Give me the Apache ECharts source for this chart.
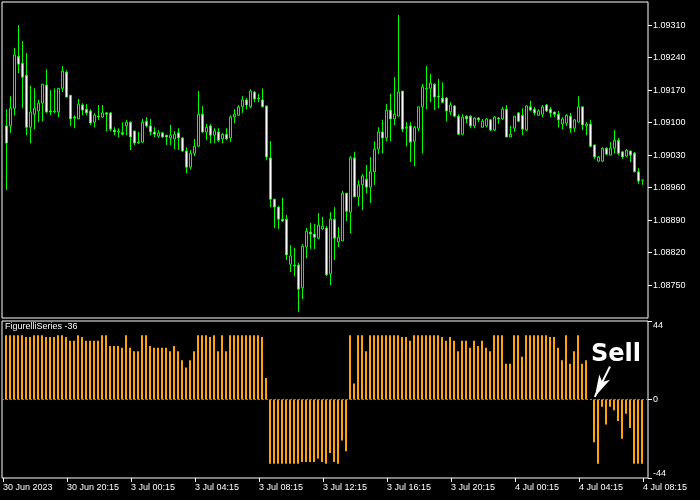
<!DOCTYPE html>
<html>
<head>
<meta charset="utf-8">
<script src="https://cdn.jsdelivr.net/npm/echarts@6/dist/echarts.min.js"></script>
<style>html,body{margin:0;padding:0;background:#000;}#c{width:700px;height:500px;}</style>
</head>
<body>
<div id="c"></div>
<script>
// EURUSD M15 candles (bar index 0..159)
const opens = [1.09093,1.09093,1.09131,1.09243,1.09228,1.09202,1.09090,1.09118,1.09125,1.09142,
1.09181,1.09125,1.09123,1.09123,1.09174,1.09209,1.09159,1.09112,1.09108,1.09138,
1.09129,1.09125,1.09101,1.09114,1.09112,1.09121,1.09121,1.09084,1.09080,1.09078,
1.09093,1.09101,1.09082,1.09056,1.09058,1.09103,1.09093,1.09080,1.09071,1.09078,
1.09073,1.09067,1.09065,1.09078,1.09067,1.09039,1.09004,1.09034,1.09049,1.09118,
1.09080,1.09093,1.09073,1.09080,1.09065,1.09075,1.09067,1.09112,1.09116,1.09134,
1.09149,1.09134,1.09166,1.09151,1.09149,1.09136,1.09024,1.08935,1.08918,1.08892,
1.08892,1.08795,1.08793,1.08793,1.08744,1.08832,1.08864,1.08860,1.08851,1.08871,
1.08873,1.08774,1.08892,1.08843,1.08845,1.08948,1.08907,1.09024,1.08940,1.08966,
1.08978,1.08961,1.08994,1.09043,1.09080,1.09067,1.09127,1.09108,1.09114,1.09168,
1.09088,1.09093,1.09060,1.09088,1.09134,1.09172,1.09174,1.09183,1.09157,1.09153,
1.09153,1.09123,1.09136,1.09114,1.09075,1.09114,1.09114,1.09093,1.09110,1.09090,
1.09093,1.09106,1.09084,1.09110,1.09108,1.09129,1.09069,1.09088,1.09121,1.09116,
1.09084,1.09134,1.09129,1.09116,1.09118,1.09138,1.09129,1.09123,1.09118,1.09097,
1.09099,1.09114,1.09088,1.09101,1.09134,1.09093,1.09097,1.09052,1.09017,1.09017,
1.09045,1.09030,1.09045,1.09062,1.09037,1.09028,1.09039,1.09034,1.08994,1.08976];
const closes = [1.09056,1.09131,1.09246,1.09226,1.09198,1.09090,1.09123,1.09131,1.09142,1.09183,
1.09123,1.09123,1.09125,1.09174,1.09211,1.09155,1.09108,1.09110,1.09140,1.09127,
1.09121,1.09099,1.09116,1.09112,1.09121,1.09118,1.09086,1.09080,1.09082,1.09075,
1.09101,1.09069,1.09056,1.09058,1.09101,1.09093,1.09080,1.09075,1.09078,1.09069,
1.09069,1.09073,1.09075,1.09067,1.09039,1.09004,1.09034,1.09049,1.09118,1.09080,
1.09090,1.09073,1.09082,1.09062,1.09075,1.09065,1.09112,1.09118,1.09134,1.09149,
1.09138,1.09168,1.09151,1.09153,1.09134,1.09026,1.08935,1.08918,1.08892,1.08888,
1.08815,1.08813,1.08791,1.08741,1.08834,1.08866,1.08860,1.08853,1.08879,1.08877,
1.08772,1.08892,1.08851,1.08853,1.08948,1.08909,1.09024,1.08940,1.08966,1.08985,
1.08961,1.08994,1.09043,1.09080,1.09067,1.09127,1.09108,1.09118,1.09166,1.09086,
1.09090,1.09058,1.09090,1.09134,1.09177,1.09174,1.09185,1.09155,1.09155,1.09144,
1.09125,1.09138,1.09114,1.09075,1.09112,1.09108,1.09093,1.09110,1.09106,1.09103,
1.09108,1.09084,1.09112,1.09108,1.09129,1.09069,1.09075,1.09114,1.09103,1.09086,
1.09136,1.09127,1.09121,1.09125,1.09134,1.09125,1.09121,1.09118,1.09106,1.09108,
1.09116,1.09088,1.09106,1.09134,1.09095,1.09097,1.09049,1.09026,1.09026,1.09045,
1.09032,1.09045,1.09062,1.09034,1.09026,1.09041,1.09030,1.08994,1.08974,1.08976];
const lows = [1.08955,1.09078,1.09116,1.09207,1.09131,1.09073,1.09056,1.09086,1.09101,1.09103,
1.09121,1.09116,1.09121,1.09112,1.09166,1.09155,1.09093,1.09088,1.09108,1.09116,
1.09116,1.09095,1.09090,1.09106,1.09110,1.09082,1.09082,1.09073,1.09069,1.09073,
1.09073,1.09041,1.09052,1.09054,1.09056,1.09090,1.09073,1.09069,1.09067,1.09067,
1.09052,1.09052,1.09043,1.09041,1.09037,1.08991,1.08999,1.09028,1.09049,1.09078,
1.09062,1.09056,1.09056,1.09058,1.09056,1.09062,1.09058,1.09099,1.09114,1.09121,
1.09129,1.09131,1.09144,1.09144,1.09134,1.09019,1.08918,1.08873,1.08871,1.08886,
1.08804,1.08778,1.08769,1.08692,1.08720,1.08808,1.08828,1.08828,1.08849,1.08869,
1.08769,1.08750,1.08804,1.08832,1.08845,1.08888,1.08862,1.08940,1.08920,1.08912,
1.08948,1.08927,1.08966,1.09032,1.09034,1.09060,1.09060,1.09095,1.09114,1.09080,
1.09049,1.09015,1.09006,1.09082,1.09034,1.09129,1.09144,1.09127,1.09131,1.09142,
1.09103,1.09116,1.09112,1.09073,1.09073,1.09099,1.09088,1.09088,1.09101,1.09090,
1.09090,1.09082,1.09082,1.09097,1.09106,1.09069,1.09069,1.09080,1.09101,1.09073,
1.09082,1.09125,1.09116,1.09114,1.09112,1.09123,1.09112,1.09112,1.09090,1.09086,
1.09093,1.09078,1.09080,1.09101,1.09084,1.09073,1.09047,1.09022,1.09015,1.09015,
1.09030,1.09030,1.09034,1.09030,1.09022,1.09026,1.09015,1.08994,1.08968,1.08966];
const highs = [1.09129,1.09157,1.09261,1.09310,1.09276,1.09250,1.09179,1.09174,1.09149,1.09183,
1.09215,1.09170,1.09174,1.09174,1.09222,1.09213,1.09159,1.09116,1.09151,1.09142,
1.09140,1.09129,1.09121,1.09138,1.09138,1.09123,1.09123,1.09090,1.09088,1.09101,
1.09106,1.09103,1.09082,1.09080,1.09108,1.09112,1.09108,1.09090,1.09084,1.09080,
1.09073,1.09095,1.09082,1.09088,1.09069,1.09047,1.09041,1.09065,1.09168,1.09136,
1.09097,1.09097,1.09088,1.09088,1.09078,1.09088,1.09116,1.09129,1.09138,1.09157,
1.09153,1.09172,1.09168,1.09162,1.09174,1.09136,1.09060,1.08935,1.08920,1.08938,
1.08901,1.08836,1.08830,1.08798,1.08838,1.08873,1.08884,1.08882,1.08905,1.08897,
1.08877,1.08907,1.08918,1.08875,1.08953,1.08948,1.09028,1.09037,1.08976,1.08989,
1.09009,1.09026,1.09060,1.09090,1.09106,1.09140,1.09162,1.09198,1.09332,1.09168,
1.09101,1.09101,1.09093,1.09134,1.09183,1.09222,1.09205,1.09185,1.09194,1.09187,
1.09155,1.09144,1.09138,1.09118,1.09118,1.09116,1.09116,1.09112,1.09112,1.09108,
1.09110,1.09108,1.09114,1.09112,1.09134,1.09138,1.09093,1.09114,1.09123,1.09131,
1.09138,1.09147,1.09134,1.09129,1.09138,1.09140,1.09134,1.09123,1.09125,1.09112,
1.09118,1.09121,1.09108,1.09157,1.09134,1.09101,1.09106,1.09052,1.09028,1.09047,
1.09047,1.09058,1.09084,1.09067,1.09039,1.09043,1.09039,1.09037,1.09002,1.08976];
// FigurelliSeries histogram
const figurelli = [36,36,36,36,36,35,35,36,36,36, 35,35,35,36,36,35,33,33,36,35,
33,33,33,33,36,36,30,30,30,29, 36,29,27,27,36,36,30,29,29,29,
29,27,30,27,22,18,22,27,36,36, 36,35,36,27,36,27,36,36,36,36,
36,36,36,36,35,12,-36,-36,-36,-36, -36,-36,-36,-36,-35,-35,-35,-35,-33,-35,
-36,-30,-35,-36,-23,-29,36,9,36,36, 27,36,36,36,36,36,36,36,36,35,
35,33,36,36,36,36,36,36,36,35, 33,35,33,27,33,33,29,33,30,33,
29,27,36,36,36,20,20,36,36,24, 36,36,36,36,36,36,35,35,29,22,
36,20,27,36,20,22,0,-24,-36,-4, -14,-4,-6,-12,-22,-8,-16,-36,-36,-36];
const timeLabels = ['30 Jun 2023','30 Jun 20:15','3 Jul 00:15','3 Jul 04:15','3 Jul 08:15','3 Jul 12:15',
  '3 Jul 16:15','3 Jul 20:15','4 Jul 00:15','4 Jul 04:15','4 Jul 08:15'];
const priceTicks = [1.08750,1.08820,1.08890,1.08960,1.09030,1.09100,1.09170,1.09240,1.09310];
const indTicks = [-44, 0, 44];
const indicatorName = 'FigurelliSeries -36';
const signalText = 'Sell';

const BARS_PER_LABEL = 16;
const xTickVals = timeLabels.map((_, k) => k * BARS_PER_LABEL - 0.75);
const candleData = opens.map((o, i) => [i, o, closes[i], lows[i], highs[i]]);
const histData = figurelli.map((v, i) => [i, v]);

const FONT = 'Liberation Sans';
const chart = echarts.init(document.getElementById('c'), null, {renderer: 'canvas'});
chart.setOption({
  backgroundColor: '#000',
  animation: false,
  title: {
    text: indicatorName, left: 5, top: 322, padding: 0,
    textStyle: {color: '#fff', fontSize: 9, fontWeight: 'normal', fontFamily: FONT}
  },
  grid: [
    {left: 2, top: 2, width: 646, height: 316, show: true, borderColor: '#fff', borderWidth: 1, backgroundColor: '#000'},
    {left: 2, top: 321, width: 646, height: 157, show: true, borderColor: '#fff', borderWidth: 1, backgroundColor: '#000'}
  ],
  xAxis: [
    {type: 'value', gridIndex: 0, min: -1.125, max: 160.375, show: false},
    {type: 'value', gridIndex: 1, min: -1, max: 160.5,
      axisLine: {show: false, onZero: false}, splitLine: {show: false},
      axisTick: {show: true, length: 4, customValues: xTickVals, lineStyle: {color: '#fff'}},
      axisLabel: {show: true, customValues: xTickVals, align: 'left', margin: 5, color: '#fff',
        fontSize: 9, fontFamily: FONT,
        formatter: v => timeLabels[Math.round((v + 0.75) / BARS_PER_LABEL)]}
    }
  ],
  yAxis: [
    {type: 'value', gridIndex: 0, position: 'right', min: 1.08679, max: 1.09360, scale: true,
      axisLine: {show: false, onZero: false}, splitLine: {show: false},
      axisTick: {show: true, length: 4, customValues: priceTicks, lineStyle: {color: '#fff'}},
      axisLabel: {show: true, customValues: priceTicks, margin: 5, color: '#fff', fontSize: 9, fontFamily: FONT,
        formatter: v => v.toFixed(5)}
    },
    {type: 'value', gridIndex: 1, position: 'right', min: -44, max: 44,
      axisLine: {show: false, onZero: false}, splitLine: {show: false},
      axisTick: {show: true, length: 4, customValues: indTicks, lineStyle: {color: '#fff'}},
      axisLabel: {show: true, customValues: indTicks, margin: 5, color: '#fff', fontSize: 9, fontFamily: FONT,
        verticalAlignMinLabel: 'bottom', verticalAlignMaxLabel: 'top'}
    }
  ],
  series: [
    {
      type: 'candlestick', xAxisIndex: 0, yAxisIndex: 0,
      data: candleData, encode: {x: 0, y: [1, 2, 3, 4]},
      barWidth: 2,
      itemStyle: {color: '#000', color0: '#fff', borderColor: '#00ff00', borderColor0: '#00ff00',
        borderColorDoji: '#00ff00', borderWidth: 1}
    },
    {
      type: 'bar', xAxisIndex: 1, yAxisIndex: 1,
      data: histData, barWidth: 2,
      itemStyle: {color: '#ffa500'},
      markLine: {
        silent: true, animation: false, label: {show: false},
        symbol: 'none',
        data: [
          {yAxis: 0, lineStyle: {color: '#808080', type: [2, 2], width: 1}},
          [
            {coord: [151, 18.5], symbol: 'none', lineStyle: {color: '#fff', width: 2, type: 'solid'}},
            {coord: [147.2, 1.5], symbol: 'arrow', symbolSize: [9, 22]}
          ]
        ]
      },
      markPoint: {
        silent: true, animation: false,
        data: [{coord: [152.5, 25], symbol: 'rect', symbolSize: 1, itemStyle: {color: 'rgba(0,0,0,0)'},
          label: {show: true, position: 'inside', formatter: signalText, color: '#fff', fontSize: 24,
            fontWeight: 'bold', fontFamily: 'DejaVu Sans'}}]
      }
    }
  ]
});
</script>
</body>
</html>
